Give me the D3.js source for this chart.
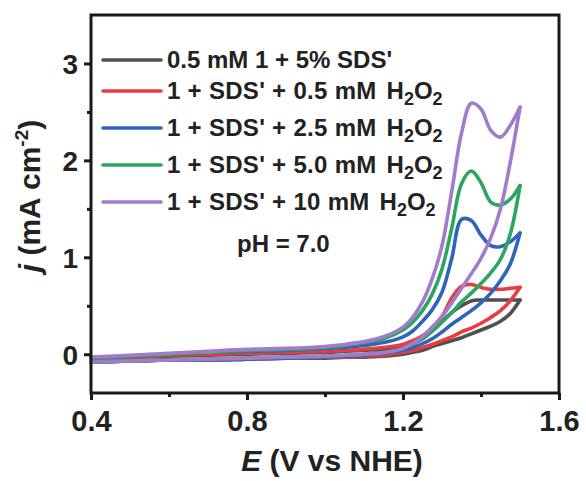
<!DOCTYPE html>
<html>
<head>
<meta charset="utf-8">
<script src="https://cdn.jsdelivr.net/npm/d3@7"></script>
<style>
  html, body { margin: 0; padding: 0; background: #fff; }
  svg { display: block; }
  text { font-family: "Liberation Sans", Arial, sans-serif; font-weight: bold; fill: #222; }
</style>
</head>
<body>
<svg id="chart" width="586" height="481"></svg>
<script>
// Potential grid (V vs NHE) shared by every scan branch
const potential = [0.40, 0.50, 0.60, 0.70, 0.80, 0.90, 1.00, 1.05, 1.10, 1.15, 1.20, 1.225,
                   1.25, 1.275, 1.30, 1.325, 1.35, 1.375, 1.40, 1.425, 1.45, 1.475, 1.50];

// Current density (mA cm-2), forward (anodic) and reverse scans
const blankFwd = [-0.04, -0.03, -0.02, -0.01, 0.00, 0.01, 0.02, 0.03, 0.04, 0.05, 0.07, 0.11,
                  0.16, 0.24, 0.34, 0.43, 0.50, 0.55, 0.56, 0.56, 0.56, 0.56, 0.56];
const blankRev = [-0.08, -0.07, -0.06, -0.06, -0.05, -0.04, -0.04, -0.03, -0.03, -0.02, 0.00, 0.02,
                  0.04, 0.08, 0.11, 0.14, 0.17, 0.21, 0.25, 0.29, 0.34, 0.42, 0.56];

const h2o2_05Fwd = [-0.04, -0.03, -0.01, 0.00, 0.01, 0.02, 0.03, 0.04, 0.05, 0.07, 0.10, 0.14,
                    0.19, 0.27, 0.39, 0.58, 0.70, 0.72, 0.69, 0.67, 0.67, 0.68, 0.69];
const h2o2_05Rev = [-0.08, -0.07, -0.06, -0.06, -0.05, -0.04, -0.03, -0.03, -0.02, -0.01, 0.02, 0.04,
                    0.07, 0.10, 0.14, 0.18, 0.23, 0.27, 0.32, 0.38, 0.45, 0.55, 0.69];

const h2o2_25Fwd = [-0.04, -0.02, 0.00, 0.02, 0.03, 0.04, 0.06, 0.07, 0.09, 0.12, 0.18, 0.24,
                    0.34, 0.46, 0.64, 0.99, 1.39, 1.38, 1.23, 1.12, 1.11, 1.16, 1.25];
const h2o2_25Rev = [-0.08, -0.07, -0.06, -0.06, -0.05, -0.04, -0.03, -0.02, -0.01, 0.01, 0.04, 0.07,
                    0.11, 0.16, 0.23, 0.31, 0.38, 0.45, 0.53, 0.63, 0.76, 0.93, 1.25];

const h2o2_50Fwd = [-0.04, -0.02, 0.00, 0.02, 0.04, 0.05, 0.07, 0.09, 0.12, 0.16, 0.25, 0.33,
                    0.45, 0.62, 0.88, 1.30, 1.76, 1.89, 1.77, 1.57, 1.54, 1.60, 1.74];
const h2o2_50Rev = [-0.08, -0.07, -0.06, -0.05, -0.04, -0.03, -0.02, -0.01, 0.00, 0.02, 0.06, 0.11,
                    0.17, 0.24, 0.33, 0.43, 0.54, 0.63, 0.73, 0.84, 0.98, 1.24, 1.74];

const h2o2_10Fwd = [-0.03, -0.01, 0.01, 0.03, 0.05, 0.06, 0.08, 0.10, 0.13, 0.18, 0.28, 0.38,
                    0.54, 0.78, 1.12, 1.68, 2.28, 2.59, 2.53, 2.31, 2.24, 2.36, 2.55];
const h2o2_10Rev = [-0.08, -0.07, -0.06, -0.05, -0.04, -0.03, -0.02, -0.01, 0.00, 0.015, 0.06, 0.11,
                    0.18, 0.28, 0.39, 0.53, 0.68, 0.83, 0.99, 1.20, 1.50, 1.98, 2.55];

const seriesLabels = ["0.5 mM 1 + 5% SDS'", "1 + SDS' + 0.5 mM H2O2", "1 + SDS' + 2.5 mM H2O2",
                      "1 + SDS' + 5.0 mM H2O2", "1 + SDS' + 10 mM H2O2"];
const seriesColors = ["#505050", "#ec3b3e", "#2f64b8", "#2da55e", "#a37bcc"];

const xTicks = [0.4, 0.8, 1.2, 1.6];
const xMinorTicks = [0.6, 1.0, 1.4];
const yTicks = [0, 1, 2, 3];
const yMinorTicks = [0.5, 1.5, 2.5];

const scans = [
  [blankFwd, blankRev],
  [h2o2_05Fwd, h2o2_05Rev],
  [h2o2_25Fwd, h2o2_25Rev],
  [h2o2_50Fwd, h2o2_50Rev],
  [h2o2_10Fwd, h2o2_10Rev]
];

const svg = d3.select("#chart");
const plot = { left: 91, right: 559, top: 15, bottom: 393 };

const x = d3.scaleLinear().domain([0.4, 1.6]).range([plot.left, plot.right]);
const y = d3.scaleLinear().domain([-0.4, 3.5]).range([plot.bottom, plot.top]);

const line = d3.line()
  .x(d => x(d[0]))
  .y(d => y(d[1]))
  .curve(d3.curveCatmullRom.alpha(0.5));

// Voltammograms: each loop drawn as its forward and reverse branch
const curves = svg.append("g");
scans.forEach((pair, i) => {
  pair.forEach(branch => {
    const pts = potential.map((e, k) => [e, branch[k]]);
    curves.append("path")
      .attr("d", line(pts))
      .attr("fill", "none")
      .attr("stroke", seriesColors[i])
      .attr("stroke-width", 3.6)
      .attr("stroke-linejoin", "round")
      .attr("stroke-linecap", "round");
  });
});

// Frame
svg.append("rect")
  .attr("x", plot.left).attr("y", plot.top)
  .attr("width", plot.right - plot.left).attr("height", plot.bottom - plot.top)
  .attr("fill", "none").attr("stroke", "#1a1a1a").attr("stroke-width", 3);

// Bottom axis
const xAxis = svg.append("g").attr("transform", `translate(0,${plot.bottom})`);
xAxis.call(d3.axisBottom(x).tickValues(xTicks).tickSize(7).tickFormat(d3.format(".1f")));
const xMinor = svg.append("g").attr("transform", `translate(0,${plot.bottom})`);
xMinor.call(d3.axisBottom(x).tickValues(xMinorTicks).tickSize(4).tickFormat(""));

// Left axis
const yAxis = svg.append("g").attr("transform", `translate(${plot.left},0)`);
yAxis.call(d3.axisLeft(y).tickValues(yTicks).tickSize(7).tickFormat(d3.format("d")));
const yMinor = svg.append("g").attr("transform", `translate(${plot.left},0)`);
yMinor.call(d3.axisLeft(y).tickValues(yMinorTicks).tickSize(4).tickFormat(""));

[xAxis, xMinor, yAxis, yMinor].forEach(g => {
  g.select(".domain").remove();
  g.selectAll(".tick line").attr("stroke", "#1a1a1a").attr("stroke-width", 3);
  g.selectAll(".tick text")
    .attr("fill", "#222")
    .style("font-family", "'Liberation Sans', Arial, sans-serif")
    .style("font-weight", "bold");
});
xAxis.selectAll(".tick text")
  .attr("font-size", 29)
  .attr("y", 38).attr("dy", null);
yAxis.selectAll(".tick text")
  .attr("font-size", 28)
  .attr("x", -13).attr("dy", "0.36em");

// Axis titles
const xTitle = svg.append("text")
  .attr("x", 332).attr("y", 471)
  .attr("text-anchor", "middle")
  .attr("font-size", 30);
xTitle.append("tspan").attr("font-style", "italic").text("E");
xTitle.append("tspan").text(" (V vs NHE)");

const yTitle = svg.append("text")
  .attr("transform", "translate(40,196) rotate(-90)")
  .attr("text-anchor", "middle")
  .attr("font-size", 30);
yTitle.append("tspan").attr("font-style", "italic").text("j");
yTitle.append("tspan").text(" (mA cm");
yTitle.append("tspan").attr("font-size", 19).attr("dy", -12).text("-2");
yTitle.append("tspan").attr("dy", 12).text(")");

// Legend (rows carrying subscripts sit a little further apart)
const legend = svg.append("g");
let rowY = 60;
seriesLabels.forEach((label, i) => {
  if (i === 1) rowY += 31;
  else if (i > 1) rowY += 37;
  legend.append("line")
    .attr("x1", 103).attr("x2", 161)
    .attr("y1", rowY).attr("y2", rowY)
    .attr("stroke", seriesColors[i]).attr("stroke-width", 3.6)
    .attr("stroke-linecap", "round");
  const t = legend.append("text")
    .attr("x", 167).attr("y", rowY + 8)
    .attr("font-size", 24);
  label.split(/(H2O2)/).forEach(p => {
    if (p === "H2O2") {
      t.append("tspan").attr("dx", 3).text("H");
      t.append("tspan").attr("font-size", 18).attr("dy", 6).text("2");
      t.append("tspan").attr("dy", -6).text("O");
      t.append("tspan").attr("font-size", 18).attr("dy", 6).text("2");
    } else if (p.length) {
      t.append("tspan").attr("letter-spacing", i > 0 ? 0.3 : 0).text(p);
    }
  });
});

svg.append("text")
  .attr("x", 237).attr("y", 252)
  .attr("font-size", 24)
  .text("pH = 7.0");
</script>
</body>
</html>
